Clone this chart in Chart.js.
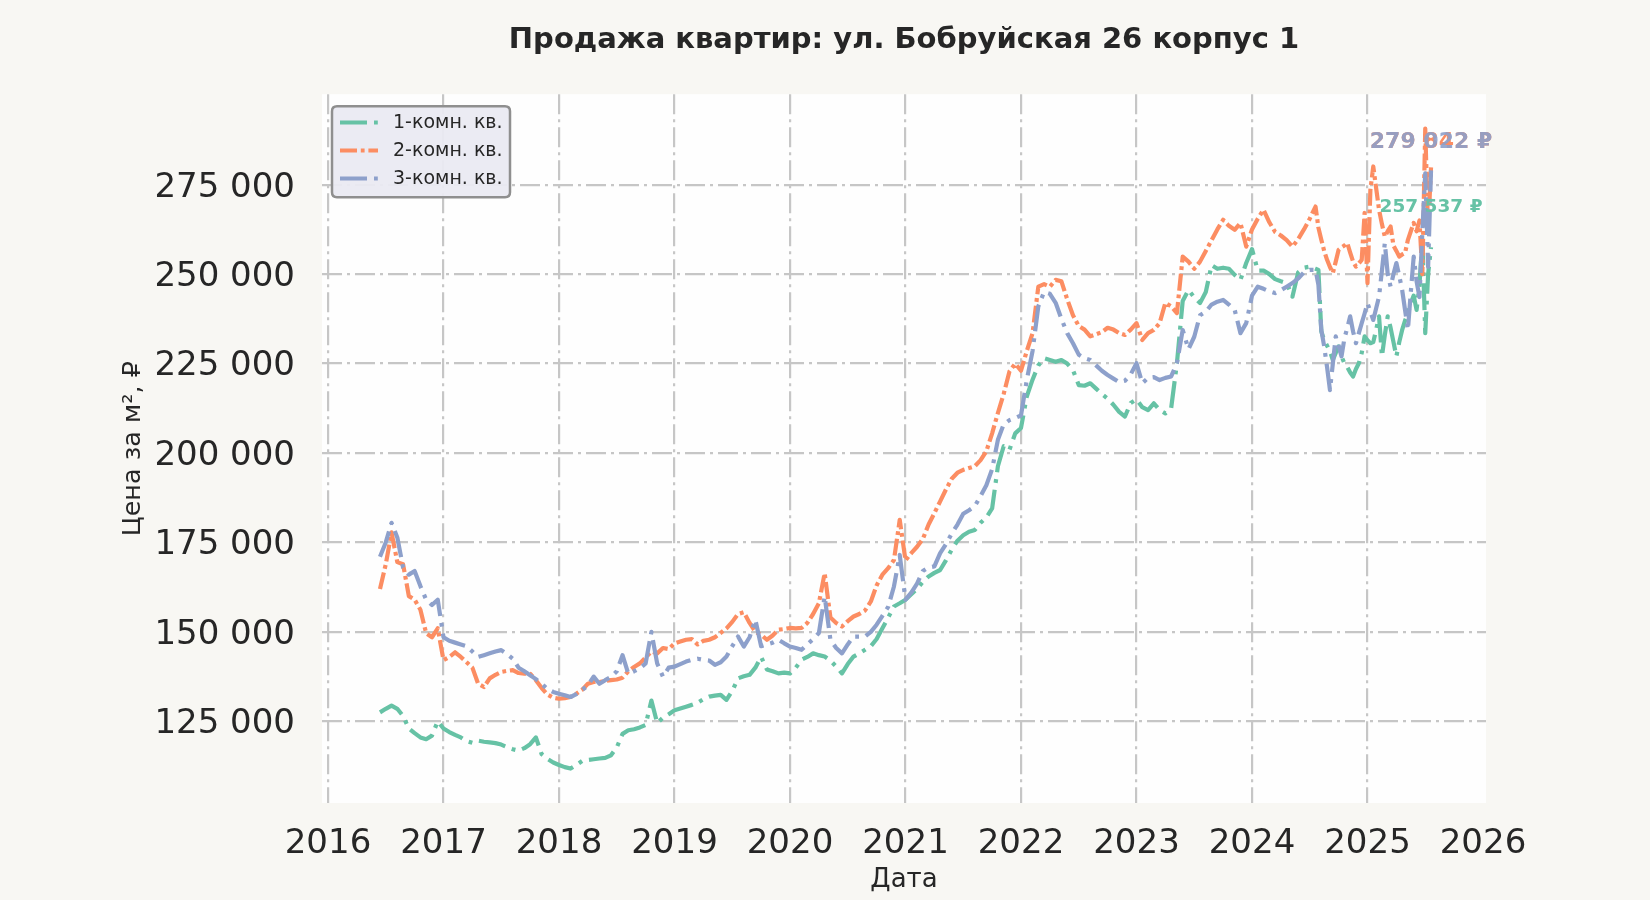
<!DOCTYPE html>
<html><head><meta charset="utf-8">
<script src="https://cdn.jsdelivr.net/npm/chart.js@4.4.1/dist/chart.umd.min.js"></script>
<style>html,body{margin:0;padding:0;background:#f8f7f3;}canvas{display:block}</style>
</head><body>
<canvas id="c" width="1650" height="900"></canvas>
<script>
// Dates as fractional years
const dates = [
 2016.45,2016.5,2016.55,2016.6,2016.65,2016.7,2016.75,2016.8,2016.85,2016.9,2016.95,
 2017,2017.05,2017.1,2017.15,2017.2,2017.25,2017.3,2017.35,2017.4,2017.45,2017.5,2017.55,2017.6,2017.65,2017.7,2017.75,2017.8,2017.85,2017.9,2017.95,
 2018,2018.05,2018.1,2018.15,2018.2,2018.25,2018.3,2018.35,2018.4,2018.45,2018.5,2018.55,2018.6,2018.65,2018.7,2018.75,2018.8,2018.85,2018.9,2018.95,
 2019,2019.05,2019.1,2019.15,2019.2,2019.25,2019.3,2019.35,2019.4,2019.45,2019.5,2019.55,2019.6,2019.65,2019.7,2019.75,2019.8,2019.85,2019.9,2019.95,
 2020,2020.05,2020.1,2020.15,2020.2,2020.25,2020.3,2020.35,2020.4,2020.45,2020.5,2020.55,2020.6,2020.65,2020.7,2020.75,2020.8,2020.85,2020.9,2020.95,
 2021,2021.05,2021.1,2021.15,2021.2,2021.25,2021.3,2021.35,2021.4,2021.45,2021.5,2021.55,2021.6,2021.65,2021.7,2021.75,2021.8,2021.85,2021.9,2021.95,
 2022,2022.05,2022.1,2022.15,2022.2,2022.25,2022.3,2022.35,2022.4,2022.45,2022.5,2022.55,2022.6,2022.65,2022.7,2022.75,2022.8,2022.85,2022.9,2022.95,
 2023,2023.05,2023.1,2023.15,2023.2,2023.25,2023.3,2023.35,2023.4,2023.45,2023.5,2023.55,2023.6,2023.65,2023.7,2023.75,2023.8,2023.85,2023.9,2023.95,
 2024,2024.05,2024.1,2024.15,2024.2,2024.25,2024.3,2024.35,2024.4,2024.45,2024.5,2024.55,
 2024.575,2024.6,2024.625,2024.65,2024.675,2024.7,2024.725,2024.75,2024.775,2024.8,2024.825,2024.85,2024.875,2024.9,2024.925,2024.95,2024.975,
 2025,2025.025,2025.05,2025.075,2025.1,2025.125,2025.15,2025.175,2025.2,2025.225,2025.25,2025.275,2025.3,2025.325,2025.35,2025.375,2025.4,2025.425,2025.45,2025.475,2025.5,2025.525,2025.55
];

// 1-room price per m2, RUB
const oneRoom = [
 127500,128500,129400,128500,126500,123000,121700,120500,120000,121000,125000,
 123000,122000,121200,120500,119500,119000,119600,119300,119100,118900,118500,117800,117200,116800,117500,118600,120500,115800,114500,113500,
 112800,112200,111800,112800,113900,114200,114400,114600,114800,115500,117700,121500,122500,122800,123300,124000,130800,124500,126000,127000,
 128100,128600,129100,129600,130200,131200,131900,132200,132400,131000,133500,137000,137600,138000,140000,143000,139500,139000,138400,138600,
 138400,140000,142200,143000,144000,143500,143100,142000,140300,138400,141000,143100,144000,145000,146000,148000,151000,154000,157100,158000,
 159000,160500,162000,164000,165500,166500,167300,170000,173000,175500,177000,178000,178500,180500,182000,184500,196300,201900,200900,205500,
 207000,215800,220500,224500,226500,226000,225500,226000,225000,223200,219000,218800,219500,218000,216500,215200,213500,211500,210200,214000,
 215000,212800,212000,213900,212000,211100,212500,225100,242500,245600,243500,241900,245000,252500,251500,251800,251500,249800,248400,253100,
 257000,251000,251000,250000,248600,248000,247500,243700,250500,251800,252100,251500,
 251200,234000,231500,230000,228500,226000,228000,229800,227000,225100,224000,222500,221400,223500,225100,228000,232600,
 231500,230700,231000,234500,238200,227000,233000,238200,235000,231000,227000,231000,234400,237000,239000,241900,244000,240000,247000,259500,233500,250000,257537
];

// 2-room price per m2, RUB
const twoRoom = [
 162000,168900,177800,169500,168900,160000,159000,156200,149600,148500,151000,
 142100,143000,144300,143000,141500,140000,135500,134600,137000,138000,138800,139100,139300,138500,138300,138300,136500,134300,132500,131600,
 131300,131500,131800,132700,133800,135500,136000,136000,136300,136500,136700,137200,139000,140200,141200,142800,144500,144000,145500,145200,
 146800,147300,147800,148000,146500,147500,147800,148500,149700,151000,152800,155000,155500,152500,150000,149200,147800,149000,150600,150800,
 151100,151000,151100,152500,155000,158000,166400,154000,152500,151500,153000,154300,155000,156000,158500,163000,166000,167800,170100,181300,
 170000,172000,173800,176000,180000,183200,186500,189800,192800,194500,195300,195800,196300,198000,200500,205500,211200,216500,222800,225000,
 223000,228500,233500,246500,247200,246500,248400,248000,243000,238500,235500,234500,232600,233200,233800,235000,234500,233500,233000,234500,
 236300,231600,233500,234400,236300,242000,241000,239100,254900,253500,251500,253500,256500,259500,262500,265200,263500,262400,264300,257700,
 262500,265500,268000,264500,261800,260800,259500,257700,259800,262500,265500,268900,
 263000,259600,256500,254000,252000,250300,253500,256800,257500,258000,258700,256000,253500,252100,253000,254000,267100,
 247500,273600,280100,274000,268000,264000,260500,262000,263300,258000,256500,254900,255500,255900,259600,262000,264300,262000,265000,250000,290700,262000,279842
];

// 3-room price per m2, RUB
const threeRoom = [
 171000,175000,180500,176400,168000,166000,167000,162800,159000,157500,159000,
 148500,147500,147000,146500,146000,144500,143000,143500,144000,144500,144900,143800,142500,140000,139000,137900,136800,135500,134000,133200,
 132700,132300,131800,132600,133800,135000,137500,135500,136500,137400,139000,143500,138300,139000,139800,141200,150000,141200,137500,140000,
 140300,141000,141700,142200,142500,142200,142000,140800,141500,143100,146000,148700,145900,148500,153400,146000,146500,147000,147800,146800,
 145900,145500,145000,146500,148000,149700,159900,147800,145500,144000,146500,148700,148700,148700,150000,152000,154500,157000,162700,171500,
 159000,161000,163500,167000,168000,168300,172000,174500,177500,180000,183000,184000,185100,188000,191000,195500,203700,208000,209200,209800,
 210500,220400,228500,241000,245000,244500,242000,237500,233500,230700,227500,226500,226000,224500,223000,221800,220800,219800,220200,222000,
 225100,219500,221000,221200,220400,221000,221400,225100,234400,229000,232500,238500,239500,241500,242300,242800,241500,240000,233500,236300,
 244000,246500,245900,245200,244700,245500,246500,247500,248800,250500,251200,251200,
 247000,234400,229800,224000,217600,225000,232600,230000,227000,232000,235000,238200,234000,230700,233500,236300,239000,
 241900,239500,237200,240500,243700,251000,258700,250000,246500,250000,253100,249500,245600,240000,234400,245000,254900,248000,243600,262000,278200,252000,279022
];

const seriesLabels = ['1-комн. кв.', '2-комн. кв.', '3-комн. кв.'];
const xTickYears = [2016,2017,2018,2019,2020,2021,2022,2023,2024,2025,2026];
const yTickValues = [125000,150000,175000,200000,225000,250000,275000];
const chartTitle = 'Продажа квартир: ул. Бобруйская 26 корпус 1';
const xAxisTitle = 'Дата';
const yAxisTitle = 'Цена за м², ₽';

const FONT = "'DejaVu Sans', 'Noto Sans', sans-serif";
const TXT = '#262626';
const colors = ['#66c2a5', '#fc8d62', '#8da0cb'];
const dashes = [[27,7,3.8,7],[17,3.8,3.8,3.8],[27,7,3.8,7]];
const fmt = v => String(Math.round(v)).replace(/\B(?=(\d{3})+(?!\d))/g, ' ');

const valueSets = [oneRoom, twoRoom, threeRoom];
valueSets.forEach((a,i)=>{ if (a.length !== dates.length) console.error('length mismatch', i, a.length, dates.length); });

// end-of-series labels (anchored in data coordinates)
const endLabels = [
  {series: 1, x: 2025.55, y: 286900, size: 22},
  {series: 2, x: 2025.55, y: 286900, size: 22},
  {series: 0, x: 2025.55, y: 268700, size: 18.5}
];

const datasets = valueSets.map((vals, i) => ({
  label: seriesLabels[i],
  data: dates.map((d, j) => ({x: d, y: vals[j]})),
  borderColor: colors[i],
  backgroundColor: colors[i],
  borderWidth: 4.2,
  borderDash: dashes[i],
  borderJoinStyle: 'round',
  borderCapStyle: 'butt',
  pointRadius: 0,
  tension: 0,
  fill: false,
  order: 3 - i
}));

const bgPlugin = {
  id: 'bg',
  beforeDraw(chart) {
    const {ctx, chartArea: a} = chart;
    ctx.save();
    ctx.fillStyle = '#f8f7f3';
    ctx.fillRect(0, 0, chart.width, chart.height);
    ctx.fillStyle = '#fefefe';
    ctx.fillRect(a.left, a.top, a.right - a.left, a.bottom - a.top);
    ctx.restore();
  }
};

function rrect(ctx, x, y, w, h, r) {
  ctx.beginPath();
  ctx.moveTo(x + r, y);
  ctx.lineTo(x + w - r, y); ctx.quadraticCurveTo(x + w, y, x + w, y + r);
  ctx.lineTo(x + w, y + h - r); ctx.quadraticCurveTo(x + w, y + h, x + w - r, y + h);
  ctx.lineTo(x + r, y + h); ctx.quadraticCurveTo(x, y + h, x, y + h - r);
  ctx.lineTo(x, y + r); ctx.quadraticCurveTo(x, y, x + r, y);
  ctx.closePath();
}

const endLabelPlugin = {
  id: 'endLabels',
  afterDatasetsDraw(chart) {
    const {ctx} = chart;
    const xs = chart.scales.x, ys = chart.scales.y;
    ctx.save();
    endLabels.forEach(l => {
      const vals = valueSets[l.series];
      const text = fmt(vals[vals.length - 1]) + ' ₽';
      ctx.font = `bold ${l.size}px ${FONT}`;
      ctx.fillStyle = colors[l.series];
      ctx.globalAlpha = l.series === 2 ? 0.9 : 1;
      ctx.textAlign = 'center';
      ctx.textBaseline = 'middle';
      ctx.fillText(text, xs.getPixelForValue(l.x), ys.getPixelForValue(l.y));
    });
    ctx.restore();
  }
};

const boxLegendPlugin = {
  id: 'boxLegend',
  afterDatasetsDraw(chart) {
    const {ctx, chartArea: a} = chart;
    const x0 = a.left + 10, y0 = a.top + 12, w = 178, h = 91;
    ctx.save();
    rrect(ctx, x0, y0, w, h, 5);
    ctx.fillStyle = 'rgba(234,234,242,0.95)';
    ctx.fill();
    ctx.lineWidth = 2.5;
    ctx.strokeStyle = '#8f8f8f';
    ctx.stroke();
    chart.data.datasets.forEach((ds, i) => {
      const cy = y0 + 16.3 + i * 28;
      ctx.beginPath();
      ctx.setLineDash(ds.borderDash);
      ctx.lineWidth = ds.borderWidth;
      ctx.strokeStyle = ds.borderColor;
      ctx.lineCap = 'butt';
      ctx.moveTo(x0 + 8, cy);
      ctx.lineTo(x0 + 46, cy);
      ctx.stroke();
      ctx.setLineDash([]);
      ctx.fillStyle = TXT;
      ctx.font = `19px ${FONT}`;
      ctx.textAlign = 'left';
      ctx.textBaseline = 'middle';
      ctx.fillText(ds.label, x0 + 61, cy + 1);
    });
    ctx.restore();
  }
};

const gridColor = '#c6c6c6';

new Chart(document.getElementById('c'), {
  type: 'line',
  data: {datasets},
  plugins: [bgPlugin, endLabelPlugin, boxLegendPlugin],
  options: {
    responsive: false,
    animation: false,
    devicePixelRatio: 1,
    parsing: true,
    layout: {padding: {left: 0, right: 164, top: 0, bottom: 0}},
    plugins: {
      legend: {display: false},
      tooltip: {enabled: false},
      title: {
        display: true, text: chartTitle, fullSize: false, color: TXT,
        font: {family: FONT, size: 29, weight: 'bold'},
        padding: {top: 23, bottom: 36.4}
      }
    },
    scales: {
      x: {
        type: 'linear',
        min: 2015.948, max: 2026.026,
        afterBuildTicks: s => { s.ticks = xTickYears.map(v => ({value: v})); },
        afterFit: s => { s.height = 97; },
        ticks: {
          callback: v => String(v), color: TXT, padding: 21,
          font: {family: FONT, size: 34}, maxRotation: 0, autoSkip: false
        },
        grid: {
          color: c => (c.tick && c.tick.value >= 2026) ? 'rgba(0,0,0,0)' : gridColor,
          lineWidth: 2.2, drawTicks: false
        },
        border: {display: false, dash: [20, 5, 3, 5]},
        title: {display: true, text: xAxisTitle, color: TXT, font: {family: FONT, size: 26}, padding: {top: 0, bottom: 4}}
      },
      y: {
        type: 'linear',
        min: 102170, max: 300300,
        afterBuildTicks: s => { s.ticks = yTickValues.map(v => ({value: v})); },
        afterFit: s => { s.width = 322; },
        ticks: {
          callback: v => fmt(v), color: TXT, padding: 27, labelOffset: 3,
          font: {family: FONT, size: 34}
        },
        grid: {color: gridColor, lineWidth: 2.2, drawTicks: false},
        border: {display: false, dash: [20, 5, 3, 5]},
        title: {display: true, text: yAxisTitle, color: TXT, font: {family: FONT, size: 25.5}, padding: {top: 118, bottom: 0}}
      }
    }
  }
});
</script>
</body></html>
